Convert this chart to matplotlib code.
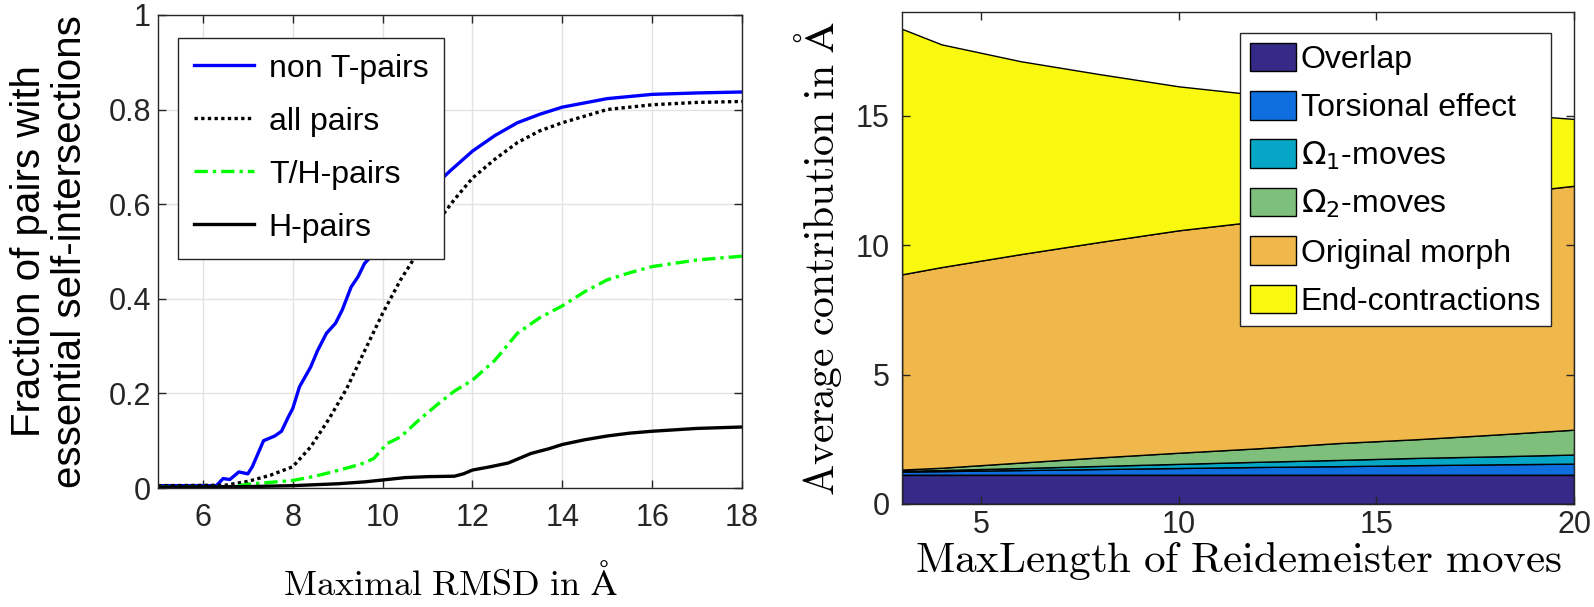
import numpy as np
import matplotlib.pyplot as plt

plt.rcParams['font.family'] = ['Liberation Sans', 'DejaVu Sans']

# Painel esquerdo: fração de pares com auto-interseções essenciais
x_nont = [5, 6.3, 6.45, 6.6, 6.8, 7.0, 7.1, 7.35, 7.6, 7.75, 7.9, 8.0, 8.15, 8.4, 8.55, 8.75,
          8.95, 9.1, 9.3, 9.45, 9.6, 9.75, 10.0, 10.5, 11.0, 11.5, 12.0, 12.5, 13.0, 13.5,
          14.0, 15.0, 16.0, 17.0, 18.0]
y_nont = [0.005, 0.005, 0.02, 0.018, 0.034, 0.03, 0.045, 0.10, 0.11, 0.12, 0.15, 0.168, 0.214,
          0.256, 0.29, 0.327, 0.348, 0.376, 0.425, 0.446, 0.475, 0.49, 0.52, 0.575, 0.625,
          0.67, 0.712, 0.745, 0.772, 0.79, 0.805, 0.823, 0.832, 0.835, 0.837]

x_all = [5, 6.5, 7.0, 7.5, 8.0, 8.4, 8.8, 9.2, 9.6, 10.0, 10.4, 10.8, 11.2, 11.6, 12.0, 12.5,
         13.0, 13.5, 14.0, 15.0, 16.0, 17.0, 18.0]
y_all = [0.005, 0.006, 0.014, 0.027, 0.045, 0.087, 0.145, 0.21, 0.29, 0.369, 0.44, 0.50, 0.56,
         0.61, 0.655, 0.695, 0.73, 0.755, 0.772, 0.80, 0.81, 0.815, 0.817]

x_th = [5, 6.6, 7.0, 7.5, 8.0, 8.5, 9.0, 9.5, 9.8, 10.1, 10.4, 10.8, 11.2, 11.6, 12.0, 12.5,
        13.0, 13.5, 14.0, 14.5, 15.0, 15.5, 16.0, 17.0, 18.0]
y_th = [0.002, 0.002, 0.008, 0.012, 0.016, 0.025, 0.037, 0.05, 0.062, 0.094, 0.108, 0.143,
        0.175, 0.205, 0.228, 0.27, 0.327, 0.36, 0.385, 0.415, 0.44, 0.455, 0.468, 0.482, 0.49]

x_h = [5, 7.0, 8.0, 9.0, 9.6, 10.0, 10.5, 11.0, 11.6, 11.8, 12.0, 12.4, 12.8, 13.3, 13.7,
       14.0, 14.5, 15.0, 15.5, 16.0, 17.0, 18.0]
y_h = [0.002, 0.003, 0.005, 0.009, 0.013, 0.017, 0.022, 0.024, 0.025, 0.03, 0.038, 0.045,
       0.053, 0.073, 0.083, 0.092, 0.102, 0.11, 0.116, 0.12, 0.126, 0.129]

# Painel direito: contribuições médias (empilhadas)
max_len = [3, 4, 6, 8, 10, 12, 14, 16, 18, 20]
overlap = [1.13, 1.13, 1.13, 1.13, 1.13, 1.13, 1.13, 1.13, 1.13, 1.13]
torsion = [0.12, 0.14, 0.18, 0.22, 0.26, 0.30, 0.33, 0.37, 0.40, 0.43]
omega1 = [0.03, 0.04, 0.08, 0.12, 0.16, 0.20, 0.24, 0.28, 0.31, 0.35]
omega2 = [0.05, 0.09, 0.21, 0.33, 0.43, 0.52, 0.65, 0.72, 0.84, 0.96]
morph = [7.54, 7.75, 8.05, 8.32, 8.59, 8.77, 8.92, 9.10, 9.27, 9.42]
end_contr = [9.48, 8.60, 7.45, 6.48, 5.56, 4.88, 4.28, 3.70, 3.15, 2.58]

area_labels = ['Overlap', 'Torsional effect', r'$\Omega_1$-moves', r'$\Omega_2$-moves',
               'Original morph', 'End-contractions']
area_colors = ['#352A87', '#0F6FDE', '#06A7C6', '#7DBF7B', '#F0B74A', '#F9F90F']

fig = plt.figure(figsize=(15.94, 6.07), dpi=100)
ax1 = fig.add_axes([0.0991, 0.196, 0.3664, 0.7795])
ax2 = fig.add_axes([0.5659, 0.1697, 0.4216, 0.8105])

# --- esquerda
ax1.plot(x_nont, y_nont, color='#0000FF', lw=2.4, label='non T-pairs')
ax1.plot(x_all, y_all, color='black', lw=2.4, ls=(0, (1, 1)), label='all pairs')
ax1.plot(x_th, y_th, color='#00FF00', lw=2.4, ls=(0, (4, 1.5, 1, 1.5)), label='T/H-pairs')
ax1.plot(x_h, y_h, color='black', lw=2.4, label='H-pairs')
ax1.set_xlim(5, 18)
ax1.set_ylim(0, 1)
ax1.set_xticks([6, 8, 10, 12, 14, 16, 18])
ax1.set_yticks([0, 0.2, 0.4, 0.6, 0.8, 1])
ax1.set_yticklabels(['0', '0.2', '0.4', '0.6', '0.8', '1'])
ax1.grid(True, color='#e3e3e3', lw=1)
ax1.set_axisbelow(True)
ax1.set_ylabel('Fraction of pairs with\nessential self-intersections', fontsize=29,
               labelpad=14, linespacing=1.1)
ax1.set_xlabel(r'$\mathrm{Maximal\ RMSD\ in\ Å}$', fontsize=26, math_fontfamily='cm',
               labelpad=22)
leg1 = ax1.legend(loc='upper left', bbox_to_anchor=(0.034, 0.952), fontsize=23,
                  fancybox=False, framealpha=1, edgecolor='#262626', handlelength=1.9,
                  borderpad=0.5, labelspacing=0.72, handletextpad=0.45, borderaxespad=0)
leg1.get_frame().set_linewidth(1.0)

# --- direita
ax2.stackplot(max_len, overlap, torsion, omega1, omega2, morph, end_contr,
              colors=area_colors, edgecolor='black', linewidth=1.0, labels=area_labels)
ax2.set_xlim(3, 20)
ax2.set_ylim(0, 19)
ax2.set_xticks([5, 10, 15, 20])
ax2.set_yticks([0, 5, 10, 15])
ax2.set_xlabel(r'$\mathrm{MaxLength\ of\ Reidemeister\ moves}$', fontsize=31,
               math_fontfamily='cm', labelpad=0)
ax2.set_ylabel(r'$\mathrm{Average\ contribution\ in\ Å}$', fontsize=30,
               math_fontfamily='cm', labelpad=8)
leg2 = ax2.legend(loc='upper left', bbox_to_anchor=(0.503, 0.957), fontsize=23,
                  fancybox=False, framealpha=1, edgecolor='#262626', handlelength=1.45,
                  handleheight=1.0, borderpad=0.3, labelspacing=0.5, handletextpad=0.15,
                  borderaxespad=0)
leg2.get_frame().set_linewidth(1.0)

for ax in (ax1, ax2):
    ax.tick_params(direction='in', length=6, width=1, labelsize=22, top=True, right=True,
                   colors='#262626', labelcolor='#262626')
    for s in ax.spines.values():
        s.set_color('#262626')
        s.set_linewidth(1.0)
ax1.tick_params(axis='x', pad=11)
ax1.tick_params(axis='y', pad=5)
ax2.tick_params(axis='x', pad=4)
ax2.tick_params(axis='y', pad=9)

fig.savefig('out.png', dpi=100)
